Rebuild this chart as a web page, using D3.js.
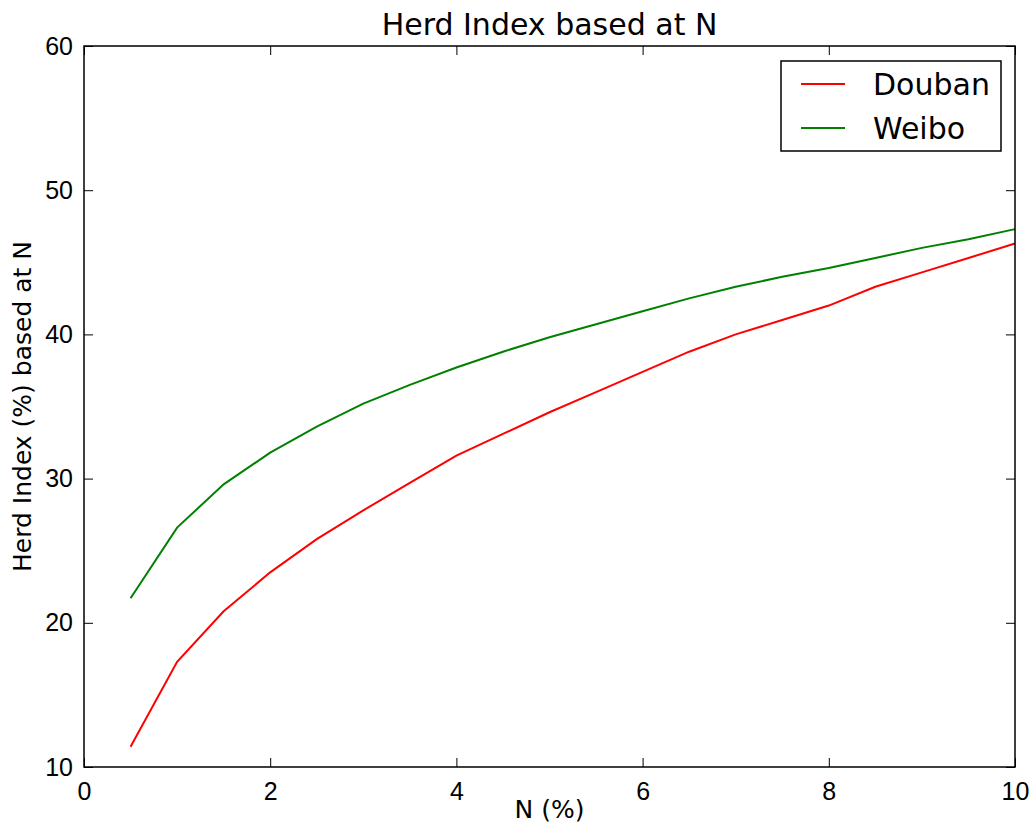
<!DOCTYPE html>
<html>
<head>
<meta charset="utf-8">
<script src="https://cdn.jsdelivr.net/npm/d3@7"></script>
<style>
    body { margin: 0; background: #fff; }
    svg { display: block; font-family: "DejaVu Sans", sans-serif; }
</style>
</head>
<body>
<svg id="chart" width="1029" height="825"></svg>
<script>
// N (%) at each sample
const nValues = [0.5, 1, 1.5, 2, 2.5, 3, 3.5, 4, 4.5, 5, 5.5, 6, 6.5, 7, 7.5, 8, 8.5, 9, 9.5, 10]

const doubanValues = [11.4, 17.3, 20.8, 23.5, 25.8, 27.8, 29.7, 31.6, 33.1, 34.6, 36.0, 37.4, 38.8, 40.0, 41.0, 42.0, 43.3, 44.3, 45.3, 46.3]
const weiboValues = [21.7, 26.6, 29.6, 31.8, 33.6, 35.2, 36.5, 37.7, 38.8, 39.8, 40.7, 41.6, 42.5, 43.3, 44.0, 44.6, 45.3, 46.0, 46.6, 47.3]

const seriesNames = ["Douban", "Weibo"]
const seriesColors = ["#ff0000", "#008000"]

const xTicks = [0, 2, 4, 6, 8, 10]
const yTicks = [10, 20, 30, 40, 50, 60]

const margin = {top: 46, right: 14, bottom: 58, left: 84}
const width = 1029
const height = 825

const svg = d3.select("#chart")

const x = d3.scaleLinear().domain([0, 10]).range([margin.left, width - margin.right])
const y = d3.scaleLinear().domain([10, 60]).range([height - margin.bottom, margin.top])

const series = [doubanValues, weiboValues].map((vals, i) => ({
    name: seriesNames[i],
    color: seriesColors[i],
    points: nValues.map((n, j) => [n, vals[j]])
}))

// lines
const line = d3.line().x(d => x(d[0])).y(d => y(d[1]))

svg.append("g")
    .selectAll("path")
    .data(series)
    .join("path")
    .attr("fill", "none")
    .attr("stroke", d => d.color)
    .attr("stroke-width", 2)
    .attr("d", d => line(d.points))

// axes, ticks pointing inward on all four sides
const tickLen = 9
const axisStyle = g => {
    g.select(".domain").remove()
    g.selectAll(".tick line").attr("stroke", "#000").attr("stroke-width", 1)
    g.selectAll(".tick text").attr("fill", "#000").style("font-size", "25px")
}

svg.append("g")
    .attr("transform", `translate(0,${y(10)})`)
    .call(d3.axisBottom(x).tickValues(xTicks).tickSizeInner(-tickLen).tickSizeOuter(0).tickPadding(15))
    .call(axisStyle)
    .call(g => g.selectAll(".tick text").attr("dy", "0.71em"))

svg.append("g")
    .attr("transform", `translate(0,${y(60)})`)
    .call(d3.axisTop(x).tickValues(xTicks).tickSizeInner(-tickLen).tickSizeOuter(0).tickFormat(""))
    .call(axisStyle)

svg.append("g")
    .attr("transform", `translate(${x(0)},0)`)
    .call(d3.axisLeft(y).tickValues(yTicks).tickSizeInner(-tickLen).tickSizeOuter(0).tickPadding(11))
    .call(axisStyle)

svg.append("g")
    .attr("transform", `translate(${x(10)},0)`)
    .call(d3.axisRight(y).tickValues(yTicks).tickSizeInner(-tickLen).tickSizeOuter(0).tickFormat(""))
    .call(axisStyle)

// frame
svg.append("rect")
    .attr("x", x(0))
    .attr("y", y(60))
    .attr("width", x(10) - x(0))
    .attr("height", y(10) - y(60))
    .attr("fill", "none")
    .attr("stroke", "#000")
    .attr("stroke-width", 1.5)

// title and axis labels
svg.append("text")
    .attr("x", (x(0) + x(10)) / 2)
    .attr("y", 35)
    .attr("text-anchor", "middle")
    .style("font-size", "30px")
    .text("Herd Index based at N")

svg.append("text")
    .attr("x", (x(0) + x(10)) / 2)
    .attr("y", 818)
    .attr("text-anchor", "middle")
    .style("font-size", "25px")
    .text("N (%)")

svg.append("text")
    .attr("transform", `translate(31,${(y(10) + y(60)) / 2}) rotate(-90)`)
    .attr("text-anchor", "middle")
    .style("font-size", "25px")
    .text("Herd Index (%) based at N")

// legend
const legend = svg.append("g").attr("transform", "translate(781,61)")

legend.append("rect")
    .attr("width", 220)
    .attr("height", 90)
    .attr("fill", "#fff")
    .attr("stroke", "#000")
    .attr("stroke-width", 1.5)

const item = legend.selectAll("g.item")
    .data(series)
    .join("g")
    .attr("class", "item")
    .attr("transform", (d, i) => `translate(0,${23 + i * 44})`)

item.append("line")
    .attr("x1", 20)
    .attr("x2", 64)
    .attr("stroke", d => d.color)
    .attr("stroke-width", 2)

item.append("text")
    .attr("x", 92)
    .attr("dy", "0.35em")
    .style("font-size", "30px")
    .text(d => d.name)
</script>
</body>
</html>
